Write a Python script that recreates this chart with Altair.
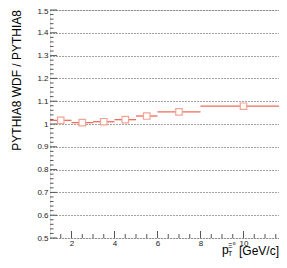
import altair as alt
import pandas as pd

# data
bin_lo = [1, 2, 3, 4, 5, 6, 8]
bin_hi = [2, 3, 4, 5, 6, 8, 12]
x_center = [1.5, 2.5, 3.5, 4.5, 5.5, 7.0, 10.0]
ratio = [1.016, 1.006, 1.010, 1.019, 1.035, 1.053, 1.078]

y_major = [round(0.5 + 0.1 * i, 1) for i in range(11)]
y_minor = [round(0.5 + 0.02 * i, 2) for i in range(51) if i % 5 != 0]
x_major = [2, 4, 6, 8, 10, 12]
x_minor = [1.5, 2.5, 3, 3.5, 4.5, 5, 5.5, 6.5, 7, 7.5, 8.5, 9, 9.5, 10.5, 11, 11.5]

PXU = 21.5              # pixels per GeV/c in the reference
W, H = 229, 228
XMAX = 1 + W / PXU
FONT = "Liberation Sans"
LINE = "#ef6b5b"
MARK = "#f4a494"
AX = "#555"

df = pd.DataFrame({"lo": bin_lo, "hi": bin_hi, "x": x_center, "y": ratio})
xs = alt.Scale(domain=[1, XMAX], nice=False, zero=False)
ys = alt.Scale(domain=[0.5, 1.5], nice=False, zero=False)

XAX = alt.Axis(values=x_major, format="d", ticks=False, domain=False, grid=False,
               labelFont=FONT, labelFontSize=8, labelColor="#222", labelPadding=1,
               labelOverlap=False, labelFlush=False, title=None)
YAX = alt.Axis(values=y_major, format="~g", ticks=False, domain=False, grid=True,
               gridDash=[1, 2], gridColor="#444", gridWidth=1,
               labelFont=FONT, labelFontSize=8, labelColor="#222", labelPadding=2,
               labelOverlap=False, labelFlush=False, title=None,
               labelOffset={"condition": {"test": "datum.value > 1.49", "value": 1}, "value": 0})


def X(f):
    return alt.X(f, scale=xs, axis=XAX)


def Y(f):
    return alt.Y(f, scale=ys, axis=YAX)


ymaj = alt.Chart(pd.DataFrame({"v": y_major})).mark_rule(color=AX, strokeWidth=1).encode(
    y=Y("v:Q"), x=alt.value(0), x2=alt.value(7))
ymin = alt.Chart(pd.DataFrame({"v": y_minor})).mark_rule(color=AX, strokeWidth=1).encode(
    y=Y("v:Q"), x=alt.value(0), x2=alt.value(3.5))
xmaj = alt.Chart(pd.DataFrame({"v": x_major})).mark_rule(color=AX, strokeWidth=1, clip=True).encode(
    x=X("v:Q"), y=alt.value(H), y2=alt.value(H - 7))
xmin = alt.Chart(pd.DataFrame({"v": x_minor})).mark_rule(color=AX, strokeWidth=1, clip=True).encode(
    x=X("v:Q"), y=alt.value(H), y2=alt.value(H - 4))

bars = alt.Chart(df).mark_rule(color=LINE, strokeWidth=1.3, clip=True).encode(
    x=X("lo:Q"), x2="hi:Q", y=Y("y:Q"))
pts = alt.Chart(df).mark_point(shape="square", size=42, filled=False, fill="white", fillOpacity=1,
                               stroke=MARK, strokeWidth=1.2, opacity=1).encode(
    x=X("x:Q"), y=Y("y:Q"))


def label(txt, px, py, fs, align="left", angle=0, baseline="alphabetic"):
    return alt.Chart(pd.DataFrame({"t": [txt]})).mark_text(
        align=align, baseline=baseline, font=FONT, fontSize=fs, color="black", angle=angle).encode(
        text="t:N", x=alt.value(px), y=alt.value(py))


ytitle = label("PYTHIA8 WDF / PYTHIA8", -33, 0, 12, align="right", angle=270, baseline="middle")
t_p = label("p", 172, 244, 12)
t_T = label("T", 178, 246, 7)
t_X = label("Ξ⁰", 178, 237.5, 7)
t_u = label("[GeV/c]", 229, 245, 12, align="right")

chart = alt.layer(ymin, ymaj, xmin, xmaj, bars, pts, ytitle, t_p, t_T, t_X, t_u).properties(
    width=W, height=H,
    autosize=alt.AutoSizeParams(type="none"),
    padding={"left": 42, "top": 2, "right": 0, "bottom": 22},
).configure_view(stroke="#666", strokeWidth=1).configure(background="white")

chart.save("out.html", embed_options={"renderer": "svg", "actions": False})
